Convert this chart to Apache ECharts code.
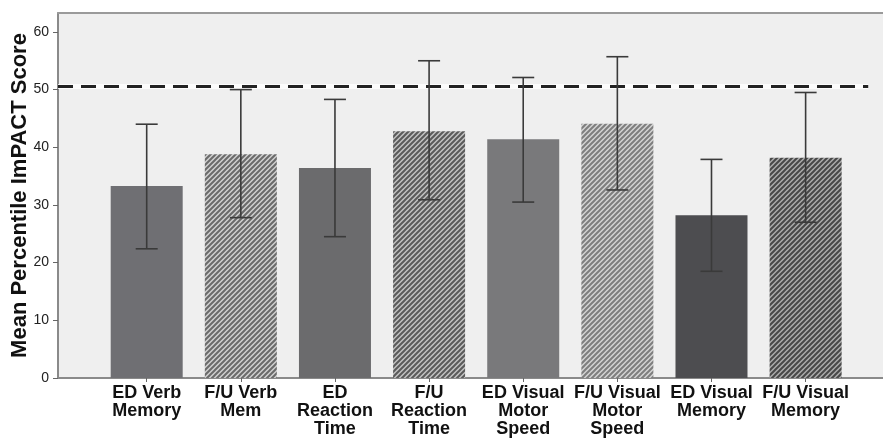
<!DOCTYPE html>
<html><head><meta charset="utf-8">
<script src="https://cdn.jsdelivr.net/npm/echarts@6/dist/echarts.min.js"></script>
<style>html,body{margin:0;padding:0;background:#fff}#c{width:883px;height:438px}</style>
</head><body><div id="c"></div>
<script>
const categories = ['ED Verb\nMemory','F/U Verb\nMem','ED\nReaction\nTime','F/U\nReaction\nTime','ED Visual\nMotor\nSpeed','F/U Visual\nMotor\nSpeed','ED Visual\nMemory','F/U Visual\nMemory'];
const means   = [33.3, 38.8, 36.4, 42.8, 41.4, 44.1, 28.2, 38.2];
const errLow  = [22.4, 27.8, 24.5, 30.9, 30.5, 32.6, 18.5, 27.0];
const errHigh = [44.0, 50.0, 48.3, 55.0, 52.1, 55.7, 37.9, 49.5];
const refLine = 50.5;
const yTicks = [0,10,20,30,40,50,60];

function hatch(bg, fg){
  const c=document.createElement('canvas'); c.width=5; c.height=5;
  const g=c.getContext('2d'); g.fillStyle=bg; g.fillRect(0,0,5,5);
  g.strokeStyle=fg; g.lineWidth=2; g.beginPath();
  g.moveTo(-1,6); g.lineTo(6,-1); g.moveTo(-1,1); g.lineTo(1,-1); g.moveTo(4,6); g.lineTo(6,4);
  g.stroke(); return {image:c, repeat:'repeat'};
}
const fills = ['#6f6f73', hatch('#d0d0d0','#6a6a6a'), '#6b6b6d', hatch('#c2c2c2','#5a5a5a'),
               '#79797b', hatch('#d4d4d4','#7e7e7e'), '#4d4d50', hatch('#ababab','#474747')];
const xPos = categories.map((c,i)=>i+1);
const xMin = 0.0578, xMax = 8.822, refEnd = 8.665;

const chart = echarts.init(document.getElementById('c'));
chart.setOption({
  animation:false,
  grid:{left:58, right:0, top:13, bottom:58, show:true, backgroundColor:'#efefef', borderWidth:0},
  xAxis:[{type:'value', min:xMin, max:xMax, splitLine:{show:false},
    axisLine:{lineStyle:{color:'#8a8a8a', width:2}},
    axisTick:{customValues:xPos, length:4, lineStyle:{color:'#666'}},
    axisLabel:{customValues:xPos, formatter:v=>categories[Math.round(v)-1], margin:6,
      fontFamily:'Liberation Sans, Arial', fontWeight:'bold', fontSize:18, lineHeight:18, color:'#111'}},
    {type:'value', position:'top', min:xMin, max:xMax, splitLine:{show:false},
    axisLine:{show:true, lineStyle:{color:'#9a9a9a', width:2}}, axisTick:{show:false}, axisLabel:{show:false}}],
  yAxis:{type:'value', min:0, max:63.28, splitLine:{show:false},
    name:'Mean Percentile ImPACT Score', nameLocation:'middle', nameGap:27, nameMoveOverlap:false,
    nameTextStyle:{fontFamily:'Liberation Sans, Arial', fontWeight:'bold', fontSize:22, color:'#111'},
    axisLine:{show:true, lineStyle:{color:'#8a8a8a', width:2}},
    axisTick:{show:true, customValues:yTicks, length:5, lineStyle:{color:'#666'}},
    axisLabel:{customValues:yTicks, margin:9, fontFamily:'Liberation Sans, Arial', fontSize:14, color:'#222'}},
  series:[
    {type:'bar', barWidth:72,
     data: means.map((m,i)=>({value:[xPos[i], m], itemStyle:{color:fills[i]}})),
     markLine:{silent:true, symbol:'none', label:{show:false},
       data:[
         [{coord:[xMin, refLine], lineStyle:{color:'#ffffff', width:5, type:'solid', opacity:0.8}},{coord:[refEnd, refLine]}],
         [{coord:[xMin, refLine], lineStyle:{color:'#222', width:3, type:[15,8]}},{coord:[refEnd, refLine]}]
       ]}},
    {type:'custom', z:5,
     data: means.map((m,i)=>[xPos[i], errLow[i], errHigh[i]]),
     renderItem:(params, api)=>{
       const lo = api.coord([api.value(0), api.value(1)]);
       const hi = api.coord([api.value(0), api.value(2)]);
       const hw = 11;
       const st = {stroke:'#3a3a3a', lineWidth:1.6};
       return {type:'group', children:[
         {type:'line', shape:{x1:lo[0], y1:lo[1], x2:hi[0], y2:hi[1]}, style:st},
         {type:'line', shape:{x1:lo[0]-hw, y1:lo[1], x2:lo[0]+hw, y2:lo[1]}, style:st},
         {type:'line', shape:{x1:hi[0]-hw, y1:hi[1], x2:hi[0]+hw, y2:hi[1]}, style:st}
       ]};
     }}
  ]
});
</script></body></html>
